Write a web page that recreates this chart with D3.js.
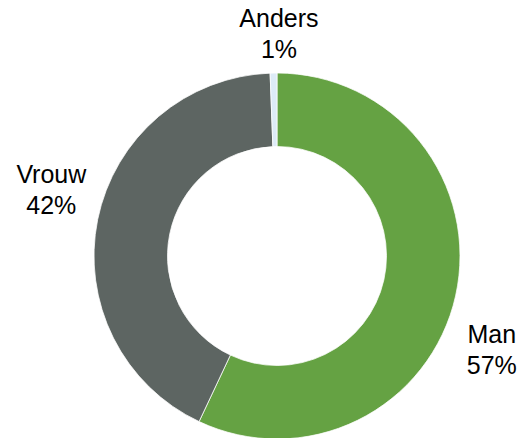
<!DOCTYPE html>
<html>
<head>
<meta charset="utf-8">
<script src="https://cdn.jsdelivr.net/npm/d3@7"></script>
<style>
  html, body { margin: 0; padding: 0; background: #fff; }
  svg { display: block; }
</style>
</head>
<body>
<svg></svg>
<script>
var categories = ["Man", "Vrouw", "Anders"];
var values = [57.0, 42.4, 0.6];
var labels = ["57%", "42%", "1%"];

var width = 521,
  height = 438,
  cx = 277,
  cy = 256,
  outerRadius = 183,
  innerRadius = 109.5,
  labelRadius = 215;

var color = d3.scaleOrdinal().domain(categories).range(["#65a243", "#5d6562", "#ddebf7"]);

// label nudges (Excel-like placement)
var labelShift = {
  Man: [5, 40],
  Vrouw: [-15, -30],
  Anders: [6, -14]
};

var svg = d3.select("svg").attr("width", width).attr("height", height);

var group = svg.append("g").attr("transform", "translate(" + cx + "," + cy + ")");

var pie = d3.pie().sort(null).value(function (d) {
  return d.value;
});

var data = categories.map(function (c, i) {
  return { name: c, value: values[i], label: labels[i] };
});

var arc = d3.arc().innerRadius(innerRadius).outerRadius(outerRadius);
var labelArc = d3.arc().innerRadius(labelRadius).outerRadius(labelRadius);

group
  .selectAll(".arc")
  .data(pie(data))
  .join("path")
  .attr("class", "arc")
  .attr("d", arc)
  .attr("fill", function (d) {
    return color(d.data.name);
  })
  .attr("stroke", "#fff")
  .attr("stroke-width", 0.75);

group
  .selectAll(".arc-text")
  .data(pie(data))
  .join("text")
  .attr("class", "arc-text")
  .each(function (d) {
    var c = labelArc.centroid(d);
    var s = labelShift[d.data.name];
    var x = c[0] + s[0],
      y = c[1] + s[1];
    var t = d3.select(this)
      .attr("text-anchor", "middle")
      .attr("font-family", "'Liberation Sans', Arial, sans-serif")
      .attr("font-size", "25px")
      .attr("fill", "#000");
    t.append("tspan").attr("x", x).attr("y", y).text(d.data.name);
    t.append("tspan").attr("x", x).attr("y", y + 31).text(d.data.label);
  });
</script>
</body>
</html>
